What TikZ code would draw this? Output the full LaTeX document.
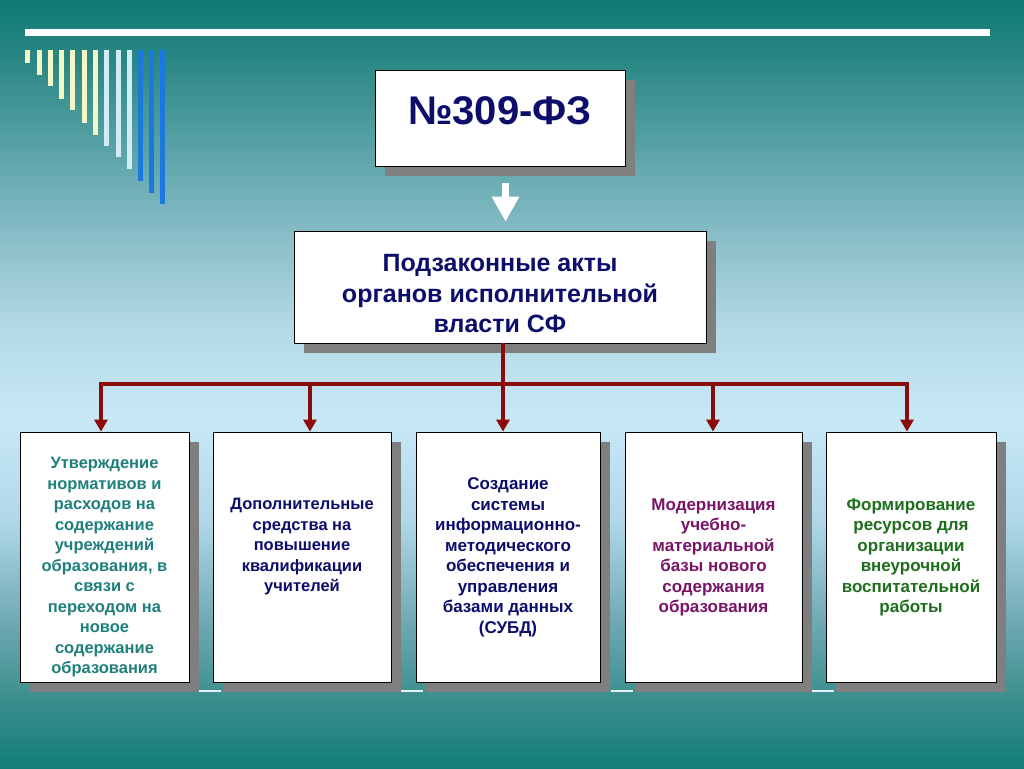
\documentclass[tikz,border=0pt]{standalone}
\usepackage{fontspec}
\setmainfont{Liberation Sans}
\usetikzlibrary{arrows.meta,shadows,calc}
\definecolor{c0}{HTML}{0F7B76}
\definecolor{c1}{HTML}{2A8783}
\definecolor{c2}{HTML}{5AA3A8}
\definecolor{c3}{HTML}{90C2CC}
\definecolor{c4}{HTML}{B4DAE6}
\definecolor{c5}{HTML}{C8E8F6}
\definecolor{c6}{HTML}{B0D8E8}
\definecolor{c7}{HTML}{70AAB4}
\definecolor{c8}{HTML}{3A8E8C}
\definecolor{c9}{HTML}{127D78}
\definecolor{navy}{HTML}{0D0D6B}
\definecolor{tealtext}{HTML}{1F7F7C}
\definecolor{purpletext}{HTML}{7A1466}
\definecolor{greentext}{HTML}{1E6E1E}
\definecolor{darkred}{HTML}{8B0A0A}
\definecolor{shadowgray}{HTML}{7F7F7F}
\definecolor{paleyellow}{HTML}{F6F7C6}
\definecolor{paleblue}{HTML}{D2ECF6}
\definecolor{barblue}{HTML}{1A78E0}
\definecolor{segwhite}{HTML}{E4F4FA}
\pgfdeclareverticalshading{bgshade}{100bp}{color(0bp)=(c9); color(25bp)=(c9); color(29.43bp)=(c8); color(34.64bp)=(c7); color(41.15bp)=(c6); color(47.66bp)=(c5); color(53.52bp)=(c4); color(58.72bp)=(c3); color(65.23bp)=(c2); color(71.09bp)=(c1); color(75bp)=(c0); color(100bp)=(c0)}
\tikzset{
  box/.style={draw=black, line width=0.8pt, fill=white, inner sep=0pt,
    drop shadow={shadow xshift=9.5pt, shadow yshift=-9.5pt, fill=shadowgray, opacity=1}},
  smalltext/.style={font=\fontsize{16.5}{20.5}\selectfont\bfseries, align=center, inner sep=0pt},
  widetext/.style={font=\fontsize{17}{20.5}\selectfont\bfseries, align=center, inner sep=0pt},
  conn/.style={draw=darkred, line width=4pt},
  arr/.style={conn, -{Triangle[width=13pt,length=12pt]}},
  bar/.style={line width=5pt, line cap=butt},
}
\begin{document}
\begin{tikzpicture}[x=1pt, y=-1pt]
\useasboundingbox (0,0) rectangle (1024,768);
\shade[shading=bgshade] (0,0) rectangle (1024,768);
% top white line
\draw[white, line width=7pt] (25,33) -- (990,33);
% decorative bars
\foreach \x/\y/\c in {27.7/63/paleyellow, 39/75/paleyellow, 50/86/paleyellow, 61.7/99/paleyellow, 72.7/110/paleyellow, 84.3/123/paleyellow, 95.7/135/paleyellow, 106.7/146/paleblue, 118/157/paleblue, 129.3/169/paleblue, 140/181/barblue, 151.3/193/barblue, 162.7/204/barblue}
  \draw[bar, \c] (\x,50.5) -- (\x,\y);
% small white segments
\foreach \a/\b in {199/221, 401/423, 611/633, 812/834}
  \draw[segwhite, line width=2pt] (\a,691) -- (\b,691);
% boxes
\node[box, minimum width=250pt, minimum height=96pt] (fz) at (500,118) {};
\node[font=\fontsize{40}{48}\selectfont\bfseries, text=navy] (fzt) at (500,111) {№309-ФЗ};
\node[box, minimum width=412pt, minimum height=112pt] (sub) at (500,287) {};
\node[font=\fontsize{25}{30.5}\selectfont\bfseries, align=center, text=navy, inner sep=0pt] (subt) at (500,294) {Подзаконные акты\\органов исполнительной\\власти СФ};
\node[box, minimum width=169pt, minimum height=250pt] (b1) at (104.5,557) {};
\node[box, minimum width=178pt, minimum height=250pt] (b2) at (302,557) {};
\node[box, minimum width=184pt, minimum height=250pt] (b3) at (508,557) {};
\node[box, minimum width=177pt, minimum height=250pt] (b4) at (713.5,557) {};
\node[box, minimum width=170pt, minimum height=250pt] (b5) at (911,557) {};
\node[smalltext, text=tealtext] (t1) at (104.5,567.5) {Утверждение\\нормативов и\\расходов на\\содержание\\учреждений\\образования, в\\связи с\\переходом на\\новое\\содержание\\образования};
\node[smalltext, text=navy] (t2) at (302,547) {Дополнительные\\средства на\\повышение\\квалификации\\учителей};
\node[widetext, text=navy] (t3) at (508,557.5) {Создание\\системы\\информационно-\\методического\\обеспечения и\\управления\\базами данных\\(СУБД)};
\node[widetext, text=purpletext] (t4) at (713.5,557.5) {Модернизация\\учебно-\\материальной\\базы нового\\содержания\\образования};
\node[widetext, text=greentext] (t5) at (911,557.5) {Формирование\\ресурсов для\\организации\\внеурочной\\воспитательной\\работы};
% white block arrow
\draw[white, line width=7pt, -{Triangle[width=26pt,length=25pt]}] ($(fz.south)+(5.5,17)$) -- ($(sub.north)+(5.5,-9)$);
% red connectors
\coordinate (j) at (503,384);
\coordinate (k1) at (101,384);
\coordinate (k2) at (310,384);
\coordinate (k4) at (713,384);
\coordinate (k5) at (907,384);
\draw[conn] (sub.south -| j) -- (j);
\draw[conn] ([xshift=-2pt]k1) -- ([xshift=2pt]k5);
\draw[arr] (k1) -- (k1 |- b1.north);
\draw[arr] (k2) -- (k2 |- b2.north);
\draw[arr] (j) -- (j |- b3.north);
\draw[arr] (k4) -- (k4 |- b4.north);
\draw[arr] (k5) -- (k5 |- b5.north);
\end{tikzpicture}
\end{document}
